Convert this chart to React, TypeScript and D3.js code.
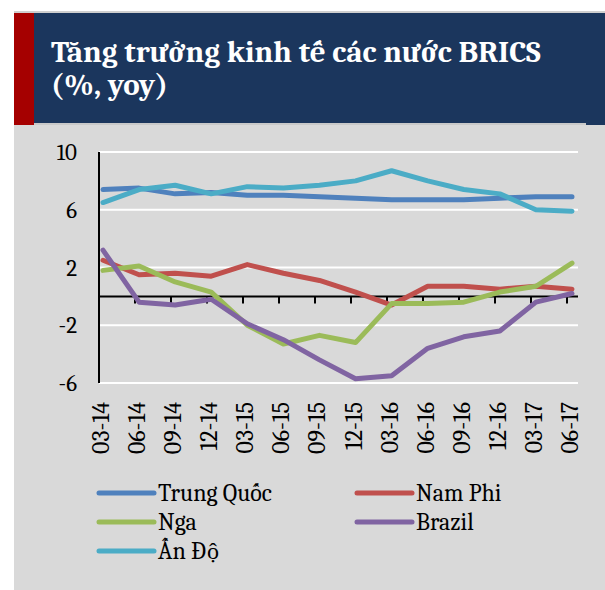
import React from "react";
import * as d3 from "d3";

const categories = ["03-14","06-14","09-14","12-14","03-15","06-15","09-15","12-15","03-16","06-16","09-16","12-16","03-17","06-17"];
const trungQuoc = [7.4, 7.5, 7.1, 7.2, 7.0, 7.0, 6.9, 6.8, 6.7, 6.7, 6.7, 6.8, 6.9, 6.9];
const namPhi = [2.5, 1.5, 1.6, 1.4, 2.2, 1.6, 1.1, 0.3, -0.6, 0.7, 0.7, 0.5, 0.7, 0.5];
const nga = [1.8, 2.1, 1.0, 0.3, -2.0, -3.3, -2.7, -3.2, -0.5, -0.5, -0.4, 0.3, 0.7, 2.3];
const brazil = [3.2, -0.4, -0.6, -0.2, -1.9, -3.0, -4.4, -5.7, -5.5, -3.6, -2.8, -2.4, -0.4, 0.2];
const anDo = [6.5, 7.4, 7.7, 7.1, 7.6, 7.5, 7.7, 8.0, 8.7, 8.0, 7.4, 7.1, 6.0, 5.9];
const yTicks = [10, 6, 2, -2, -6];

const series = [
  { name: "Trung Quốc", values: trungQuoc, color: "#4f81bd" },
  { name: "Nam Phi", values: namPhi, color: "#c0504d" },
  { name: "Nga", values: nga, color: "#9bbb59" },
  { name: "Brazil", values: brazil, color: "#8064a2" },
  { name: "Ấn Độ", values: anDo, color: "#4bacc6" },
];

export default function App() {
  const W = 605, H = 590;
  const plotLeft = 99, plotRight = 578;
  const x = d3.scalePoint<string>().domain(categories).range([103, 572]);
  const y = d3.scaleLinear().domain([-6, 10]).range([383, 152]);
  const step = 36;
  const line = d3.line<number>().x((_, i) => x(categories[i])!).y((v) => y(v));
  const font = "Cambria, 'Liberation Serif', serif";
  const legendPos = [
    { x: 99, y: 493 }, { x: 357, y: 493 },
    { x: 99, y: 522 }, { x: 357, y: 522 },
    { x: 99, y: 551 },
  ];
  return (
    <svg width={W} height={H} style={{ position: "absolute", left: 0, top: 0, background: "#fff" }}>
      <rect x={14} y={11} width={W - 14} height={H - 11} fill="#d9d9d9" />
      <rect x={14} y={11} width={W - 14} height={2} fill="#cfcfcf" />
      <rect x={34} y={13} width={W - 34} height={111} fill="#1b365d" />
      <rect x={586} y={13} width={W - 586} height={112} fill="#1b365d" />
      <rect x={14} y={13} width={20} height={112} fill="#a50000" />
      <rect x={34} y={123} width={552} height={2} fill="#c9c9c9" />
      <text x={51} y={62} fill="#fff" fontFamily={font} fontWeight="bold" fontSize={31}>Tăng trưởng kinh tế các nước BRICS</text>
      <text x={51} y={95} fill="#fff" fontFamily={font} fontWeight="bold" fontSize={31}>(%, yoy)</text>
      {yTicks.map((t) => (
        <g key={t}>
          <line x1={plotLeft} x2={plotRight} y1={y(t)} y2={y(t)} stroke="#fff" strokeWidth={2} />
          <text x={77} y={y(t) + 8} textAnchor="end" fontFamily={font} fontSize={23} fill="#000">{t}</text>
        </g>
      ))}
      <line x1={plotLeft} x2={plotLeft} y1={y(10)} y2={y(-6)} stroke="#000" strokeWidth={2} />
      <line x1={plotLeft} x2={plotRight} y1={y(0)} y2={y(0)} stroke="#000" strokeWidth={2} />
      {categories.map((c, i) => (
        <line key={c} x1={plotLeft + step * i} x2={plotLeft + step * i} y1={y(0)} y2={y(0) + 7} stroke="#000" strokeWidth={2} />
      ))}
      {categories.map((c) => (
        <text key={c} transform={`translate(${x(c)! + 6},${402}) rotate(-90)`} textAnchor="end" fontFamily={font} fontSize={24} fill="#000">{c}</text>
      ))}
      {series.map((s) => (
        <path key={s.name} d={line(s.values)!} fill="none" stroke={s.color} strokeWidth={5} strokeLinejoin="round" strokeLinecap="round" />
      ))}
      {series.map((s, i) => (
        <g key={s.name}>
          <line x1={legendPos[i].x} x2={legendPos[i].x + 55} y1={legendPos[i].y} y2={legendPos[i].y} stroke={s.color} strokeWidth={5} strokeLinecap="round" />
          <text x={legendPos[i].x + 59} y={legendPos[i].y + 8} fontFamily={font} fontSize={24} fill="#000">{s.name}</text>
        </g>
      ))}
    </svg>
  );
}
